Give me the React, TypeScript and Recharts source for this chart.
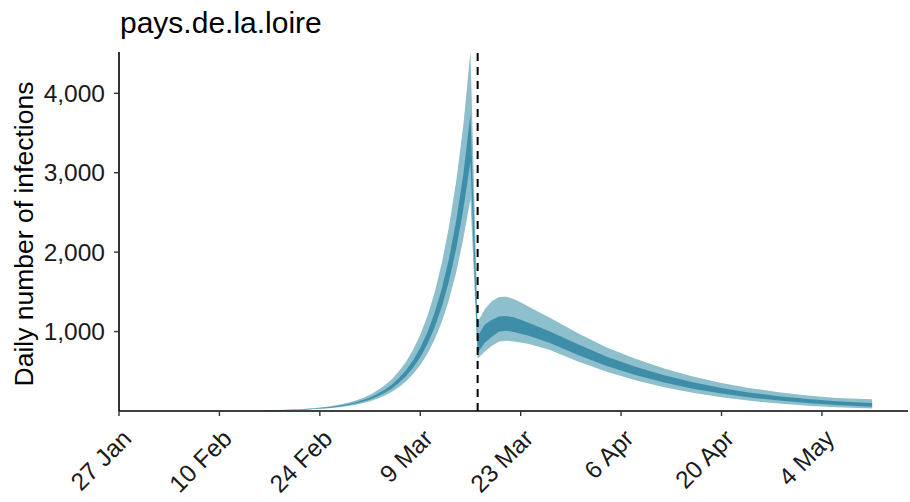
import { Area, ComposedChart, ReferenceLine, XAxis, YAxis } from "recharts"

const axisStart = "2020-01-27"
const axisEnd = "2020-05-16"
const interventionDate = "2020-03-17"

const dates = [
  "2020-02-16", "2020-02-17", "2020-02-18", "2020-02-19", "2020-02-20", "2020-02-21",
  "2020-02-22", "2020-02-23", "2020-02-24", "2020-02-25", "2020-02-26", "2020-02-27",
  "2020-02-28", "2020-02-29", "2020-03-01", "2020-03-02", "2020-03-03", "2020-03-04",
  "2020-03-05", "2020-03-06", "2020-03-07", "2020-03-08", "2020-03-09", "2020-03-10",
  "2020-03-11", "2020-03-12", "2020-03-13", "2020-03-14", "2020-03-15", "2020-03-16",
  "2020-03-17", "2020-03-18", "2020-03-19", "2020-03-20", "2020-03-21", "2020-03-22",
  "2020-03-23", "2020-03-24", "2020-03-27", "2020-03-31", "2020-04-04", "2020-04-08",
  "2020-04-12", "2020-04-16", "2020-04-20", "2020-04-24", "2020-04-28", "2020-05-02",
  "2020-05-06", "2020-05-11",
]

const lower90 = [
  4.7, 5.8, 7.1, 8.9, 11, 14, 17, 21, 27, 33, 41, 51, 64, 80, 100, 124, 155, 193, 240, 299,
  373, 465, 579, 722, 900, 1121, 1397, 1740, 2169, 2670,
  660, 750, 820, 875, 885, 875, 862, 848, 772, 624, 494, 386, 300, 229, 172, 128, 93, 67, 47, 30,
]
const lower50 = [
  5.5, 6.8, 8.3, 10.5, 13, 16, 20, 25, 31, 39, 48, 60, 75, 93, 117, 145, 181, 226, 281, 351,
  437, 545, 678, 845, 1054, 1313, 1635, 2038, 2539, 3140,
  730, 860, 935, 1000, 1010, 995, 972, 950, 860, 705, 566, 452, 358, 280, 219, 171, 132, 101, 77, 53,
]
const upper50 = [
  6.4, 7.9, 9.8, 12.3, 15, 19, 24, 29, 37, 46, 56, 71, 88, 110, 137, 170, 213, 265, 330, 411,
  512, 639, 795, 992, 1236, 1540, 1918, 2390, 2978, 3740,
  940, 1090, 1150, 1190, 1195, 1180, 1150, 1114, 1004, 839, 684, 556, 450, 361, 289, 231, 187, 151, 122, 101,
]
const upper90 = [
  7.7, 9.6, 11.8, 14.8, 18, 23, 29, 35, 45, 55, 68, 85, 106, 132, 165, 206, 257, 320, 398, 496,
  618, 772, 960, 1197, 1492, 1859, 2316, 2886, 3596, 4520,
  1120, 1280, 1385, 1435, 1440, 1410, 1370, 1320, 1177, 978, 800, 657, 535, 435, 353, 288, 237, 196, 165, 148,
]

const tickDates = [
  "2020-01-27", "2020-02-10", "2020-02-24", "2020-03-09",
  "2020-03-23", "2020-04-06", "2020-04-20", "2020-05-04",
]
const tickLabels = ["27 Jan", "10 Feb", "24 Feb", "9 Mar", "23 Mar", "6 Apr", "20 Apr", "4 May"]
const yTicks = [1000, 2000, 3000, 4000]
const yMax = 4520

const FONT = '"Liberation Sans", Arial, sans-serif'
const LIGHT = "#8dbfcc"
const DARK = "#3f8ea9"
const TICK_SIZE = 24.5

const dayOf = (d: string) => (Date.parse(d) - Date.parse(axisStart)) / 86400000

const data = dates.map((d, i) => ({
  day: dayOf(d),
  ci90: [lower90[i], upper90[i]],
  ci50: [lower50[i], upper50[i]],
}))

const xTicks = tickDates.map(dayOf)
const labelFor = (v: number) => tickLabels[xTicks.indexOf(v)] ?? ""

function DateTick(props: any) {
  const { x, y, payload } = props
  const ax = x + 14
  const ay = y + 22
  return (
    <text
      x={ax}
      y={ay}
      transform={`rotate(-45 ${ax} ${ay})`}
      textAnchor="end"
      fontSize={TICK_SIZE}
      fontFamily={FONT}
      fill="#1a1a1a"
    >
      {labelFor(payload.value)}
    </text>
  )
}

export default function App() {
  return (
    <div style={{ position: "absolute", left: 0, top: 0, width: 910, height: 502, background: "#fff" }}>
      <ComposedChart
        width={910}
        height={502}
        data={data}
        margin={{ top: 52, right: 2, bottom: 0, left: 0 }}
      >
        <XAxis
          dataKey="day"
          type="number"
          domain={[0, dayOf(axisEnd)]}
          ticks={xTicks}
          interval={0}
          height={91}
          tickSize={5}
          tickMargin={2}
          axisLine={{ stroke: "#000", strokeWidth: 1.6 }}
          tickLine={{ stroke: "#333", strokeWidth: 1.4 }}
          tick={(p: any) => <DateTick {...p} />}
          allowDataOverflow
        />
        <YAxis
          type="number"
          domain={[0, yMax]}
          ticks={yTicks}
          width={119}
          tickSize={5}
          tickMargin={9}
          axisLine={{ stroke: "#000", strokeWidth: 1.6 }}
          tickLine={{ stroke: "#333", strokeWidth: 1.4 }}
          tick={{ fontSize: TICK_SIZE, fontFamily: FONT, fill: "#1a1a1a" }}
          tickFormatter={(v: number) => v.toLocaleString("en-US")}
          allowDataOverflow
        />
        <Area
          dataKey="ci90"
          type="linear"
          stroke="none"
          fill={LIGHT}
          fillOpacity={1}
          isAnimationActive={false}
        />
        <Area
          dataKey="ci50"
          type="linear"
          stroke="none"
          fill={DARK}
          fillOpacity={1}
          isAnimationActive={false}
        />
        <ReferenceLine
          x={dayOf(interventionDate)}
          stroke="#000"
          strokeWidth={2}
          strokeDasharray="8 6"
        />
      </ComposedChart>
      <svg
        width={910}
        height={502}
        style={{ position: "absolute", left: 0, top: 0, pointerEvents: "none" }}
      >
        <text x={120} y={33} fontSize={30} fontFamily={FONT} fill="#000">
          pays.de.la.loire
        </text>
        <text
          x={33}
          y={234}
          transform="rotate(-90 33 234)"
          textAnchor="middle"
          fontSize={26.5}
          fontFamily={FONT}
          fill="#000"
        >
          Daily number of infections
        </text>
      </svg>
    </div>
  )
}
